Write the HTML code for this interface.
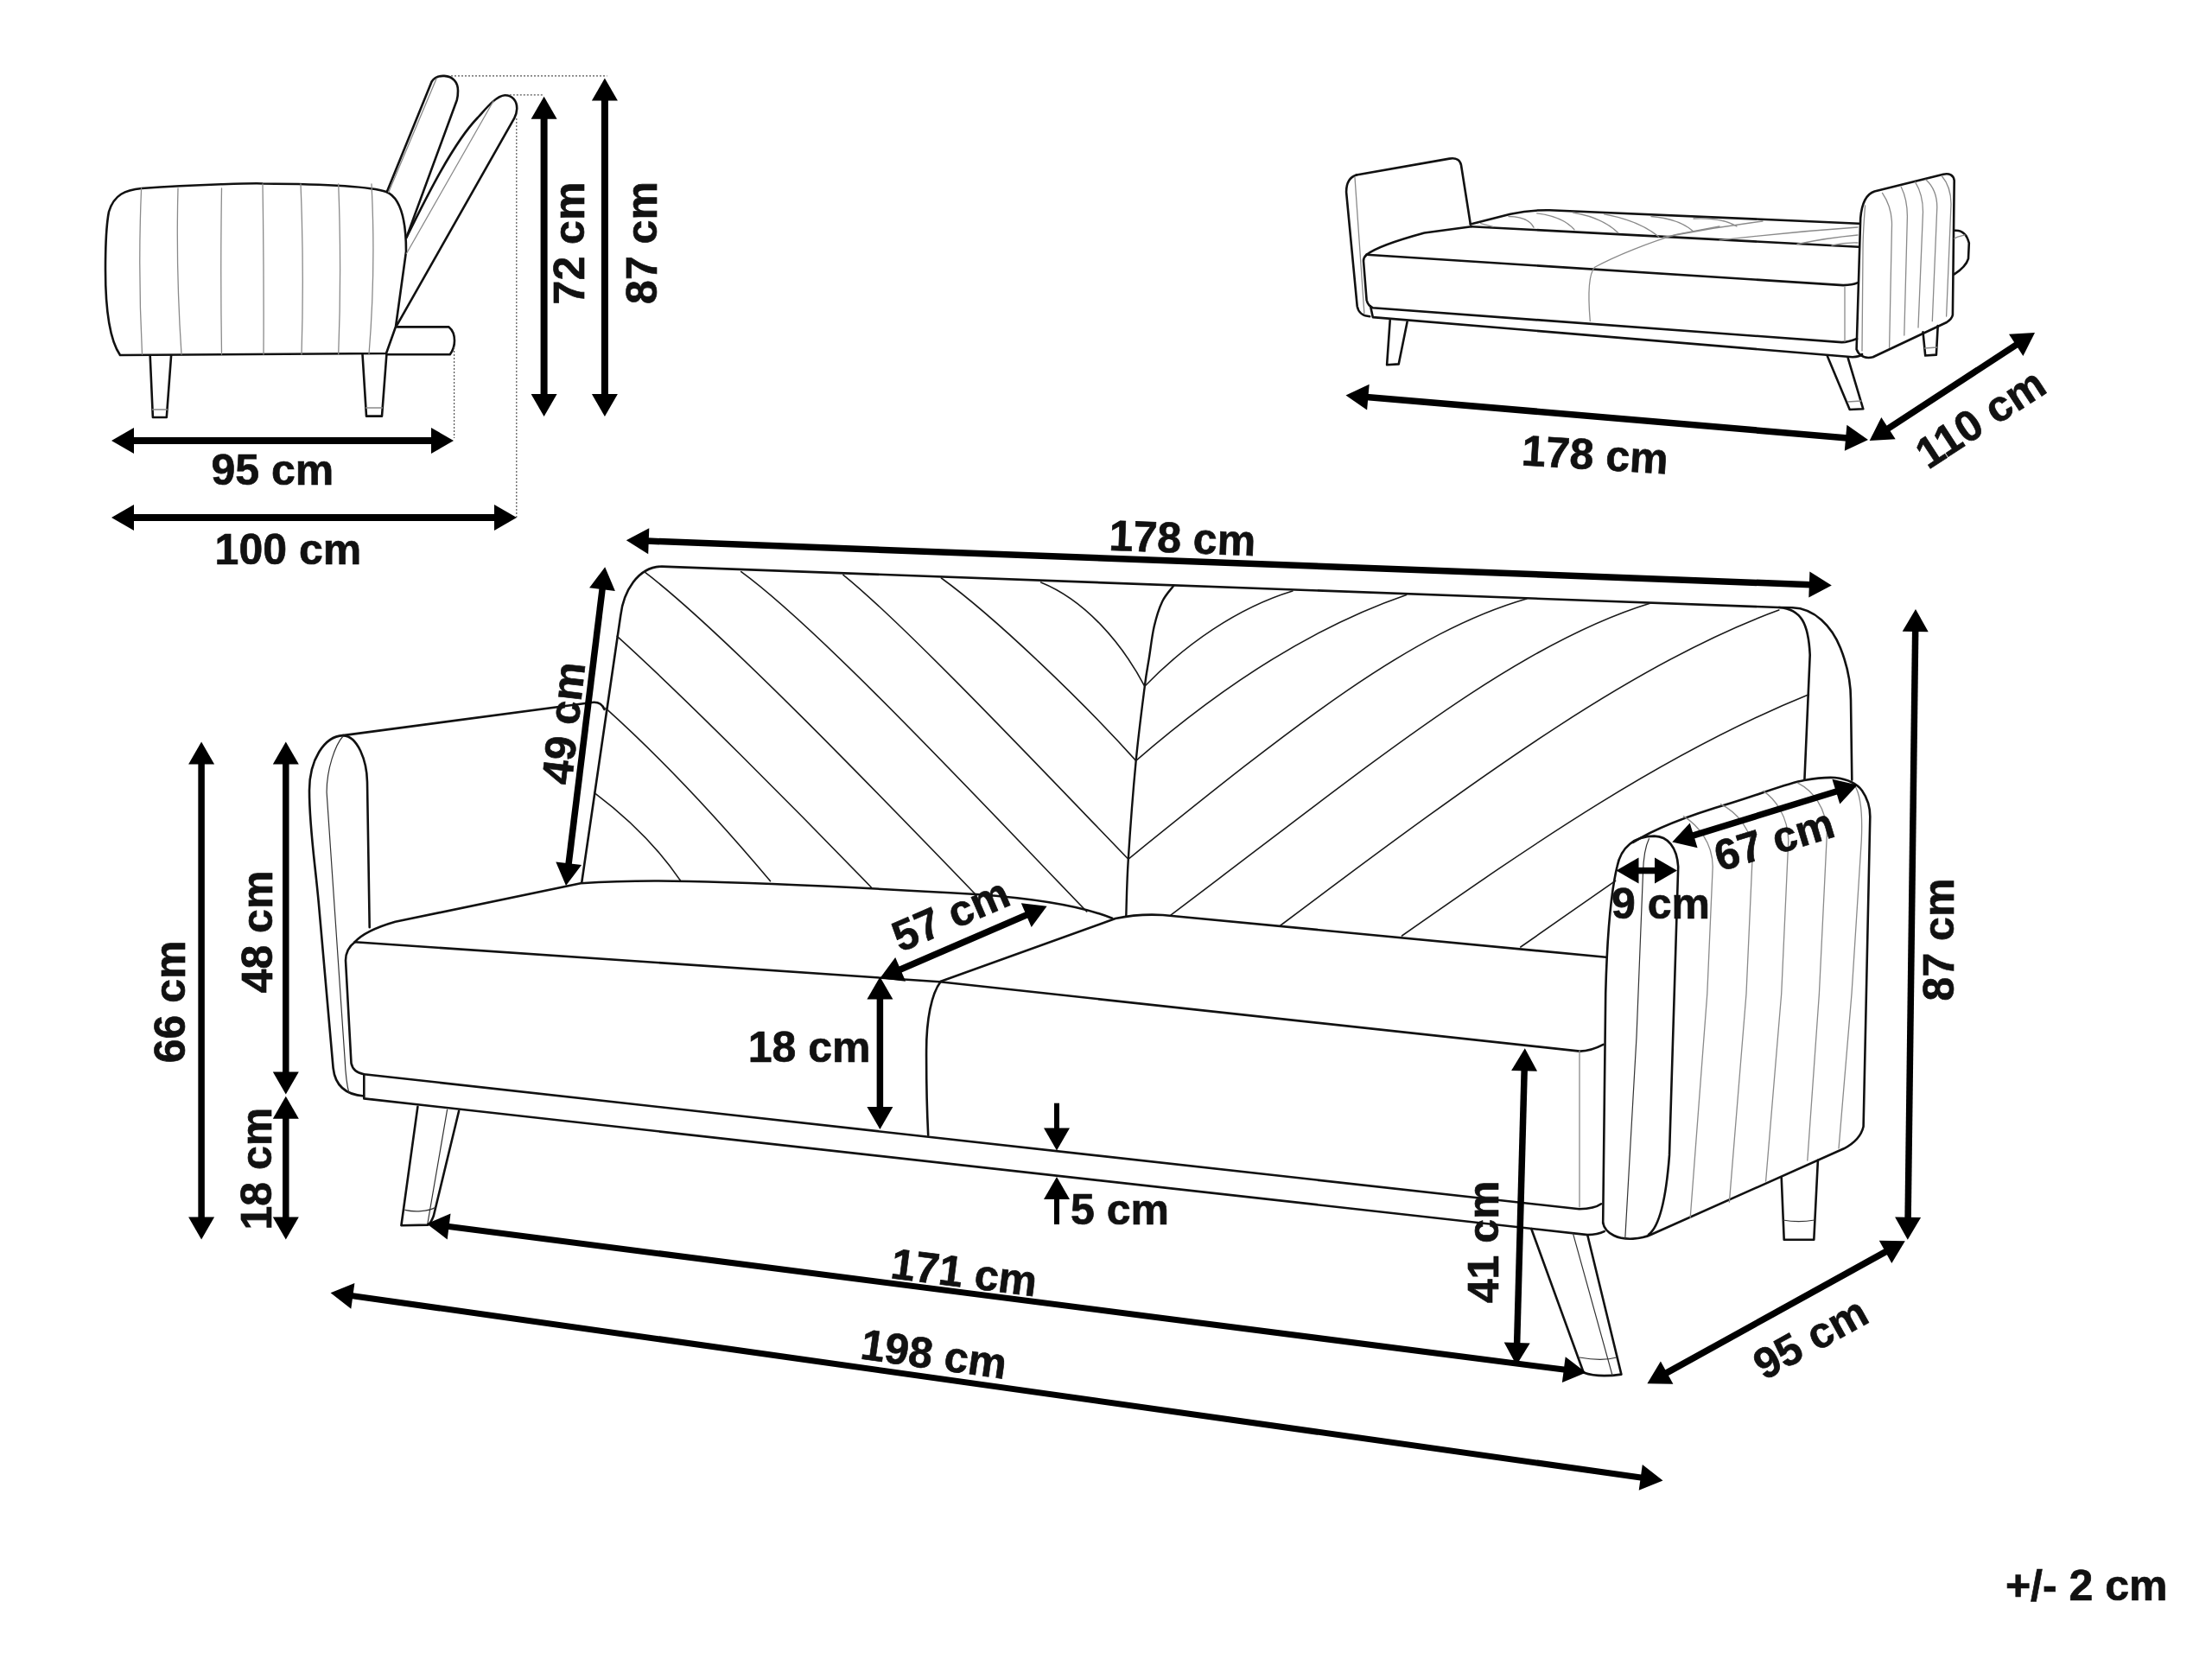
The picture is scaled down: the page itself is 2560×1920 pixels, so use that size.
<!DOCTYPE html>
<html><head><meta charset="utf-8"><style>
html,body{margin:0;padding:0;background:#fff;width:2560px;height:1920px;overflow:hidden}
svg{display:block}
text{font-family:"Liberation Sans",sans-serif;font-weight:bold;fill:#111;stroke:#111;stroke-width:0.7px}
</style></head><body>
<svg width="2560" height="1920" viewBox="0 0 2560 1920">
<rect width="2560" height="1920" fill="#fff"/>
<path d="M164,218 C230,213 300,212 304,212.5 C370,213 430,216 447,222 C462,228 470,250 470,291 L458,378 L447,409 L139,411 C128,395 122,360 122,312 C122,280 124,255 126,245 C132,225 145,220 164,218 Z" fill="none" stroke="#111" stroke-width="2.6" stroke-linecap="round" stroke-linejoin="round"/>
<path d="M163.6,218 Q159.5,312 164.5,410" fill="none" stroke="#8a8a8a" stroke-width="1.3" stroke-linecap="round"/>
<path d="M206,218 Q203.5,312 210,410" fill="none" stroke="#8a8a8a" stroke-width="1.3" stroke-linecap="round"/>
<path d="M256.5,218 Q255,312 256.5,410" fill="none" stroke="#8a8a8a" stroke-width="1.3" stroke-linecap="round"/>
<path d="M304,213 Q305.5,312 305,410" fill="none" stroke="#8a8a8a" stroke-width="1.3" stroke-linecap="round"/>
<path d="M348,213 Q352,312 349,410" fill="none" stroke="#8a8a8a" stroke-width="1.3" stroke-linecap="round"/>
<path d="M391.7,213 Q395.5,312 391.7,410" fill="none" stroke="#8a8a8a" stroke-width="1.3" stroke-linecap="round"/>
<path d="M430,213 Q435,312 427,410" fill="none" stroke="#8a8a8a" stroke-width="1.3" stroke-linecap="round"/>
<path d="M173.7,411.5 L176.9,483 L192.8,483 L198.1,411.5" fill="none" stroke="#111" stroke-width="2.6" stroke-linecap="round" stroke-linejoin="round"/>
<path d="M176.5,474 L193.5,474" fill="none" stroke="#8a8a8a" stroke-width="1.3" stroke-linecap="round"/>
<path d="M419.5,410 L424,481.6 L442,481.6 L447.4,410" fill="none" stroke="#111" stroke-width="2.6" stroke-linecap="round" stroke-linejoin="round"/>
<path d="M423.5,472 L442.5,472" fill="none" stroke="#8a8a8a" stroke-width="1.3" stroke-linecap="round"/>
<path d="M447.9,221.8 L499.6,94.5 C503,89 508,87.5 514.2,87.9 C524,88.5 530,95 530,105 C530,110 529.5,113 528.8,115.7 L470.4,274.9" fill="none" stroke="#111" stroke-width="2.6" stroke-linecap="round" stroke-linejoin="round"/>
<path d="M449.7,222.5 L505.2,90.8" fill="none" stroke="#8a8a8a" stroke-width="1.3" stroke-linecap="round"/>
<path d="M470.4,274.9 C495,225 525,165 553,136 C563,125 574,111 584.2,110.2 C593,110 598.5,117 598.2,126 C598,130 597.3,133 595.3,136.6 L459.8,375.7" fill="none" stroke="#111" stroke-width="2.6" stroke-linecap="round" stroke-linejoin="round"/>
<path d="M470.4,293.5 L571,117" fill="none" stroke="#8a8a8a" stroke-width="1.3" stroke-linecap="round"/>
<path d="M459.8,378.4 L519.5,378.4 C524,382 526,387 526,394.3 C526,401 524,406 520.8,410.2 L447.9,410.2" fill="none" stroke="#111" stroke-width="2.6" stroke-linecap="round" stroke-linejoin="round"/>
<path d="M522,87.9 L702.6,87.9" fill="none" stroke="#555" stroke-width="1.2" stroke-dasharray="2,2"/>
<path d="M589.8,109.9 L628.3,109.9" fill="none" stroke="#555" stroke-width="1.2" stroke-dasharray="2,2"/>
<path d="M597.8,137 L597.8,599" fill="none" stroke="#555" stroke-width="1.2" stroke-dasharray="2,2"/>
<path d="M525.6,402 L525.6,507" fill="none" stroke="#555" stroke-width="1.2" stroke-dasharray="2,2"/>
<line x1="629.6" y1="135.7" x2="629.6" y2="457.9" stroke="#000" stroke-width="8"/>
<polygon points="629.6,111.7 614.6,137.7 644.6,137.7" fill="#000"/>
<polygon points="629.6,481.9 614.6,455.9 644.6,455.9" fill="#000"/>
<line x1="699.9" y1="114.5" x2="699.9" y2="457.9" stroke="#000" stroke-width="8"/>
<polygon points="699.9,90.5 684.9,116.5 714.9,116.5" fill="#000"/>
<polygon points="699.9,481.9 684.9,455.9 714.9,455.9" fill="#000"/>
<line x1="153.0" y1="510.0" x2="501.0" y2="510.0" stroke="#000" stroke-width="8"/>
<polygon points="129.0,510.0 155.0,525.0 155.0,495.0" fill="#000"/>
<polygon points="525.0,510.0 499.0,525.0 499.0,495.0" fill="#000"/>
<line x1="153.0" y1="599.0" x2="574.0" y2="599.0" stroke="#000" stroke-width="8"/>
<polygon points="129.0,599.0 155.0,614.0 155.0,584.0" fill="#000"/>
<polygon points="598.0,599.0 572.0,614.0 572.0,584.0" fill="#000"/>
<text x="315.3" y="560.9" font-size="50" text-anchor="middle" transform="rotate(0.00 315.3 543.0)">95 cm</text>
<text x="333.4" y="652.9" font-size="50" text-anchor="middle" transform="rotate(0.00 333.4 635.0)">100 cm</text>
<text x="658.0" y="299.4" font-size="50" text-anchor="middle" transform="rotate(-90.00 658.0 281.5)">72 cm</text>
<text x="741.7" y="298.9" font-size="50" text-anchor="middle" transform="rotate(-90.00 741.7 281.0)">87 cm</text>
<path d="M1569.8,202.5 L1677.4,183.6 C1686,182 1690,186 1691,191 L1699.1,242.3 L1701.8,259.5" fill="none" stroke="#111" stroke-width="2.6" stroke-linecap="round" stroke-linejoin="round"/>
<path d="M1569.8,202.5 C1562,205 1558,212 1558.1,222.4 L1570.7,354.4 C1572,362 1578,366 1585.2,366.2" fill="none" stroke="#111" stroke-width="2.6" stroke-linecap="round" stroke-linejoin="round"/>
<path d="M1568,205.3 L1578.9,362.6" fill="none" stroke="#8a8a8a" stroke-width="1.3" stroke-linecap="round"/>
<path d="M1701.8,259.5 L1748,247.8 C1765,244 1780,243 1793.2,243.2 L2151.4,258.7" fill="none" stroke="#111" stroke-width="2.6" stroke-linecap="round" stroke-linejoin="round"/>
<path d="M1702.7,262.2 L2151.4,285.8" fill="none" stroke="#111" stroke-width="2.6" stroke-linecap="round" stroke-linejoin="round"/>
<path d="M1581.6,294.8 C1590,288 1610,280 1648.5,269.5 L1702.7,262.2" fill="none" stroke="#111" stroke-width="2.6" stroke-linecap="round" stroke-linejoin="round"/>
<path d="M1581.6,294.8 L2133.3,330.1 C2140,330 2146,329 2149.5,327.4" fill="none" stroke="#111" stroke-width="2.6" stroke-linecap="round" stroke-linejoin="round"/>
<path d="M1581.6,294.8 C1578,298 1578,300 1578,302 L1581.6,347.2 C1583,353 1586,355 1588.8,356.3 L2131.5,396.1 C2138,396 2144,394 2149,392" fill="none" stroke="#111" stroke-width="2.6" stroke-linecap="round" stroke-linejoin="round"/>
<path d="M1586.1,354.4 L1588.8,367.1 L2144.1,413.3 C2150,413 2153,412 2155,410" fill="none" stroke="#111" stroke-width="2.6" stroke-linecap="round" stroke-linejoin="round"/>
<path d="M2135,332 L2135,395" fill="none" stroke="#8a8a8a" stroke-width="1.3" stroke-linecap="round"/>
<path d="M1840.3,371.6 C1838,345 1838,318 1845.6,309.2 C1870,296 1910,280 1940,271.3 L1990,262" fill="none" stroke="#8a8a8a" stroke-width="1.3" stroke-linecap="round"/>
<path d="M1713.6,258.6 L1728,262.4" fill="none" stroke="#8a8a8a" stroke-width="1.3" stroke-linecap="round"/>
<path d="M1746,250.5 Q1768.5,250.8 1775,263.1" fill="none" stroke="#8a8a8a" stroke-width="1.3" stroke-linecap="round"/>
<path d="M1778.7,246.8 Q1808.35,250.3 1822,265.8" fill="none" stroke="#8a8a8a" stroke-width="1.3" stroke-linecap="round"/>
<path d="M1820.3,246 Q1854.5,251.75 1872.7,269.5" fill="none" stroke="#8a8a8a" stroke-width="1.3" stroke-linecap="round"/>
<path d="M1856.5,247.8 Q1896.15,254.89999999999998 1919.8,274" fill="none" stroke="#8a8a8a" stroke-width="1.3" stroke-linecap="round"/>
<path d="M1911,250.5 Q1943.5,253.25 1960,268" fill="none" stroke="#8a8a8a" stroke-width="1.3" stroke-linecap="round"/>
<path d="M1960,253 Q1993.0,251.5 2010,262" fill="none" stroke="#8a8a8a" stroke-width="1.3" stroke-linecap="round"/>
<path d="M1925,274.5 Q1982.5,263.25 2040,256" fill="none" stroke="#8a8a8a" stroke-width="1.3" stroke-linecap="round"/>
<path d="M1990,278 Q2070.0,268.5 2150,263" fill="none" stroke="#8a8a8a" stroke-width="1.3" stroke-linecap="round"/>
<path d="M2080,282.5 Q2115.0,275.25 2150,272" fill="none" stroke="#8a8a8a" stroke-width="1.3" stroke-linecap="round"/>
<path d="M2120,284 Q2135.0,280.5 2150,281" fill="none" stroke="#8a8a8a" stroke-width="1.3" stroke-linecap="round"/>
<path d="M2148.6,404.2 L2153.2,252.3 C2155,232 2162,224 2169.4,221.6 L2249,201.7 C2256,200 2261,203 2261.7,208.9 L2259.9,364.5 C2259,369 2256,371 2253,373 L2167.6,413.3 C2160,415 2152,413 2148.6,404.2 Z" fill="none" stroke="#111" stroke-width="2.6" stroke-linecap="round" stroke-linejoin="round"/>
<path d="M2158.6,237.9 Q2156,270 2156,290 L2155,406" fill="none" stroke="#8a8a8a" stroke-width="1.3" stroke-linecap="round"/>
<path d="M2178.5,223.4 Q2189.5,239.7 2189.5,259.7 L2186.6,402.4" fill="none" stroke="#8a8a8a" stroke-width="1.3" stroke-linecap="round"/>
<path d="M2200.2,216.2 Q2207.4,230.6 2207.4,250.6 L2203.8,388" fill="none" stroke="#8a8a8a" stroke-width="1.3" stroke-linecap="round"/>
<path d="M2216.5,210.7 Q2225.5,225.2 2225.5,245.2 L2220,379" fill="none" stroke="#8a8a8a" stroke-width="1.3" stroke-linecap="round"/>
<path d="M2229,208 Q2241.8,219.8 2241.8,239.8 L2236.3,371.7" fill="none" stroke="#8a8a8a" stroke-width="1.3" stroke-linecap="round"/>
<path d="M2247.2,203.5 Q2258,216.2 2258,236.2 L2252.6,366" fill="none" stroke="#8a8a8a" stroke-width="1.3" stroke-linecap="round"/>
<path d="M2261.7,266.8 C2270,266 2276,270 2278.8,281.3 L2278,299.3 C2276,306 2270,312 2261.7,317.4" fill="none" stroke="#111" stroke-width="2.6" stroke-linecap="round" stroke-linejoin="round"/>
<path d="M2261.7,276 C2265,274 2270,273 2274,272" fill="none" stroke="#8a8a8a" stroke-width="1.3" stroke-linecap="round"/>
<path d="M1608.7,370.7 L1605.1,422.3 L1618.7,421.4 L1628.6,372.5" fill="none" stroke="#111" stroke-width="2.6" stroke-linecap="round" stroke-linejoin="round"/>
<path d="M2114.9,412.2 L2140.7,474 L2156.3,473.3 L2138.7,414.3" fill="none" stroke="#111" stroke-width="2.6" stroke-linecap="round" stroke-linejoin="round"/>
<path d="M2138.5,465 L2154,464" fill="none" stroke="#8a8a8a" stroke-width="1.3" stroke-linecap="round"/>
<path d="M2225.5,384.3 L2228.2,411.5 L2240.9,410.6 L2242.7,377.1" fill="none" stroke="#111" stroke-width="2.6" stroke-linecap="round" stroke-linejoin="round"/>
<path d="M2227.5,403 L2241.5,402" fill="none" stroke="#8a8a8a" stroke-width="1.3" stroke-linecap="round"/>
<line x1="1581.4" y1="459.4" x2="2138.1" y2="507.0" stroke="#000" stroke-width="7.5"/>
<polygon points="1557.5,457.4 1582.1,474.6 1584.7,444.7" fill="#000"/>
<polygon points="2162.0,509.0 2134.8,521.7 2137.4,491.8" fill="#000"/>
<line x1="2183.8" y1="496.8" x2="2334.9" y2="398.2" stroke="#000" stroke-width="7.5"/>
<polygon points="2163.7,509.9 2193.7,508.3 2177.3,483.1" fill="#000"/>
<polygon points="2355.0,385.1 2341.4,411.9 2325.0,386.7" fill="#000"/>
<text x="1846.0" y="543.4" font-size="50" text-anchor="middle" transform="rotate(3.50 1846.0 525.5)">178 cm</text>
<text x="2291.5" y="501.3" font-size="50" text-anchor="middle" transform="rotate(-33.10 2291.5 483.4)">110 cm</text>
<path d="M673.3,1021 L718.2,712.6 C721.5,685 738,655.8 765.9,655.6 L2059,703 C2085,705 2093,722 2094.7,758 L2088.4,902.6" fill="none" stroke="#111" stroke-width="2.6" stroke-linecap="round" stroke-linejoin="round"/>
<path d="M2059,703 L2074.5,703.3 C2100,704 2120,725 2130,750 C2138,770 2142,790 2142,810 L2143.3,902.6" fill="none" stroke="#111" stroke-width="2.6" stroke-linecap="round" stroke-linejoin="round"/>
<path d="M1358.1,678.1 C1355.9,681.1 1348.8,688.4 1345.1,696.2 C1341.4,704.0 1338.2,714.2 1335.7,725.1 C1333.2,736.0 1331.7,749.8 1329.9,761.3 C1328.1,772.8 1327.3,774.4 1324.8,794.3 C1322.3,814.1 1317.9,847.1 1314.7,880.4 C1311.5,913.7 1307.7,964.3 1305.8,994.3 C1303.9,1024.2 1303.7,1049.1 1303.3,1060.1" fill="none" stroke="#111" stroke-width="2.4" stroke-linecap="round"/>
<path d="M687.7,917.3 C725.4,945.7 761.4,980.5 787.8,1019.7" fill="none" stroke="#1a1a1a" stroke-width="1.6" stroke-linecap="round"/>
<path d="M701.0,819.6 C768.8,880.6 832.9,949.9 891.5,1019.7" fill="none" stroke="#1a1a1a" stroke-width="1.6" stroke-linecap="round"/>
<path d="M714.2,736.4 C791.0,805.6 922.2,937.8 1008.4,1027.0" fill="none" stroke="#1a1a1a" stroke-width="1.6" stroke-linecap="round"/>
<path d="M745.6,661.7 C831.3,726.3 1018.1,920.2 1129.9,1036.0" fill="none" stroke="#1a1a1a" stroke-width="1.6" stroke-linecap="round"/>
<path d="M857.7,661.7 C948.5,727.6 1140.8,933.9 1257.7,1055.0" fill="none" stroke="#1a1a1a" stroke-width="1.6" stroke-linecap="round"/>
<path d="M975.9,665.3 C1048.3,723.9 1208.7,893.8 1305.8,994.3" fill="none" stroke="#1a1a1a" stroke-width="1.6" stroke-linecap="round"/>
<path d="M1089.4,669.0 C1151.9,714.4 1252.7,811.5 1314.7,880.4" fill="none" stroke="#1a1a1a" stroke-width="1.6" stroke-linecap="round"/>
<path d="M1204.6,674.0 C1256.6,695.0 1298.5,744.7 1324.8,794.3" fill="none" stroke="#1a1a1a" stroke-width="1.6" stroke-linecap="round"/>
<path d="M1324.8,794.3 C1371.5,746.0 1431.7,703.6 1495.9,684.0" fill="none" stroke="#1a1a1a" stroke-width="1.6" stroke-linecap="round"/>
<path d="M1314.7,880.4 C1406.1,800.9 1513.1,727.8 1627.6,688.4" fill="none" stroke="#1a1a1a" stroke-width="1.6" stroke-linecap="round"/>
<path d="M1305.8,994.3 C1498.4,838.3 1634.4,730.9 1766.8,692.9" fill="none" stroke="#1a1a1a" stroke-width="1.6" stroke-linecap="round"/>
<path d="M1355.2,1058.9 C1593.2,879.6 1752.0,746.4 1910.3,698.0" fill="none" stroke="#1a1a1a" stroke-width="1.6" stroke-linecap="round"/>
<path d="M1482.0,1071.0 C1727.3,886.1 1898.4,764.4 2058.8,706.0" fill="none" stroke="#1a1a1a" stroke-width="1.6" stroke-linecap="round"/>
<path d="M1622.5,1083.0 C1770.5,979.4 1925.9,871.5 2093.4,803.8" fill="none" stroke="#1a1a1a" stroke-width="1.6" stroke-linecap="round"/>
<path d="M1759.8,1096.0 C1796.0,1070.7 1833.4,1044.7 1869.6,1019.4" fill="none" stroke="#1a1a1a" stroke-width="1.6" stroke-linecap="round"/>
<path d="M397,851.1 L684.8,813 C692,812 697,815 699.5,821" fill="none" stroke="#111" stroke-width="2.6" stroke-linecap="round" stroke-linejoin="round"/>
<path d="M421,1268.5 C402,1267 388,1258 385.6,1236 L369.5,1052.8 C365,1000 358,960 358,915 C358,880 375,852 397,851.1 C414,852 424.5,880 425,905 L427.7,1073.2" fill="none" stroke="#111" stroke-width="2.6" stroke-linecap="round" stroke-linejoin="round"/>
<path d="M397,852 C388,862 378,890 378.1,917 L399.1,1225.7 C400,1245 402,1258 404,1265.2" fill="none" stroke="#333" stroke-width="1.2" stroke-linecap="round"/>
<path d="M410.7,1090.2 C420,1080 436,1073 457.5,1066.8 L672,1022.2 C720,1019 760,1019 797.4,1020 C900,1022 1010,1028 1129.8,1035 C1200,1040 1256,1050 1287.2,1062.8" fill="none" stroke="#111" stroke-width="2.6" stroke-linecap="round" stroke-linejoin="round"/>
<path d="M410.7,1090.2 L1087.5,1136.3" fill="none" stroke="#111" stroke-width="2.6" stroke-linecap="round" stroke-linejoin="round"/>
<path d="M410.7,1090.2 C403,1096 400,1103 400,1111.5 L406.5,1230.5 C408,1238 414,1242 421.3,1243.2 L1827.8,1399.3 C1840,1399 1848,1397 1853.1,1393.3" fill="none" stroke="#111" stroke-width="2.6" stroke-linecap="round" stroke-linejoin="round"/>
<path d="M421.3,1243.2 L421.3,1271.4 L1837.4,1429.1 C1845,1429 1852,1427.5 1856.7,1425.2" fill="none" stroke="#111" stroke-width="2.6" stroke-linecap="round" stroke-linejoin="round"/>
<path d="M1088.7,1136 C1078,1150 1072,1180 1072.1,1217 C1072,1260 1073,1290 1074.2,1313.8" fill="none" stroke="#111" stroke-width="2.6" stroke-linecap="round" stroke-linejoin="round"/>
<path d="M1087.5,1136.3 L1290.9,1063 C1310,1059 1330,1058 1345.8,1059 L1858.5,1107.8" fill="none" stroke="#111" stroke-width="2.6" stroke-linecap="round" stroke-linejoin="round"/>
<path d="M1087.5,1136.3 C1400,1170 1700,1204 1828.4,1216.6 C1835,1216.5 1842,1216 1855.5,1208.9" fill="none" stroke="#111" stroke-width="2.6" stroke-linecap="round" stroke-linejoin="round"/>
<path d="M1828,1216.3 L1828,1397.1" fill="none" stroke="#8a8a8a" stroke-width="1.3" stroke-linecap="round"/>
<path d="M483.4,1280.9 L464.4,1418.2 L495.3,1417.6 C498,1416 500,1412 501.8,1407.3 L531.1,1285.8" fill="none" stroke="#111" stroke-width="2.6" stroke-linecap="round" stroke-linejoin="round"/>
<path d="M517.6,1284.2 L494.8,1416.5" fill="none" stroke="#333" stroke-width="1.2" stroke-linecap="round"/>
<path d="M468.8,1400.3 C480,1403 495,1402 503.5,1397.6" fill="none" stroke="#333" stroke-width="1.2" stroke-linecap="round"/>
<path d="M1772.3,1422.2 L1832.7,1588.5 C1845,1593 1860,1593 1876.4,1590.6 L1837.4,1430" fill="none" stroke="#111" stroke-width="2.6" stroke-linecap="round" stroke-linejoin="round"/>
<path d="M1820.5,1427.6 L1866,1591.6" fill="none" stroke="#333" stroke-width="1.2" stroke-linecap="round"/>
<path d="M1828,1571 C1845,1574 1860,1574 1871,1571" fill="none" stroke="#333" stroke-width="1.2" stroke-linecap="round"/>
<path d="M2061.7,1362.5 L2064.7,1434.8 L2099.3,1434.8 L2103.9,1342.9" fill="none" stroke="#111" stroke-width="2.6" stroke-linecap="round" stroke-linejoin="round"/>
<path d="M2063.5,1412 C2075,1414 2088,1414 2100,1412" fill="none" stroke="#333" stroke-width="1.2" stroke-linecap="round"/>
<path d="M1890,975 C1910,962 1950,945 2003.7,929.2 C2040,918 2070,906 2088.2,903 C2105,900 2115,899.5 2123.6,900 C2140,902 2150,908 2155,915 C2162,925 2164.3,935 2164.3,945 L2156.6,1303.7 C2154,1315 2146,1323 2134,1329.3 L1911,1428.8 C1900,1434 1880,1436 1868,1430 C1860,1426 1856,1420 1855.2,1415.2" fill="none" stroke="#111" stroke-width="2.6" stroke-linecap="round" stroke-linejoin="round"/>
<path d="M1855.2,1415.2 L1858.2,1150 C1860,1080 1865,1030 1871.5,1003 C1876,980 1892,967.6 1914.6,967.6 C1930,968 1940.7,980 1942.2,1003 L1932,1336.9 C1928,1390 1920,1420 1908,1428.8" fill="none" stroke="#111" stroke-width="2.6" stroke-linecap="round" stroke-linejoin="round"/>
<path d="M1908.4,970.7 C1904,980 1902,990 1901.5,1010 L1894,1200 L1880.8,1433.3" fill="none" stroke="#333" stroke-width="1.2" stroke-linecap="round"/>
<path d="M1948.4,944.6 C1965,955 1982,975 1982.2,1003 L1975.8,1150 L1956.2,1409.2" fill="none" stroke="#8a8a8a" stroke-width="1.3" stroke-linecap="round"/>
<path d="M1991.4,930.7 C2010,940 2028,960 2028.3,987.6 L2021,1150 L2001.4,1391.1" fill="none" stroke="#8a8a8a" stroke-width="1.3" stroke-linecap="round"/>
<path d="M2040.6,915.4 C2055,925 2069,945 2069.8,972.2 L2061.7,1150 L2043.6,1367" fill="none" stroke="#8a8a8a" stroke-width="1.3" stroke-linecap="round"/>
<path d="M2080.6,906.1 C2098,915 2114,935 2114.4,964.5 L2105.4,1150 L2091.8,1343" fill="none" stroke="#8a8a8a" stroke-width="1.3" stroke-linecap="round"/>
<path d="M2146.6,909.2 C2152,918 2156,935 2154.3,972.2 L2143,1150 L2128,1329" fill="none" stroke="#8a8a8a" stroke-width="1.3" stroke-linecap="round"/>
<line x1="748.8" y1="626.1" x2="2095.8" y2="676.7" stroke="#000" stroke-width="7.5"/>
<polygon points="724.8,625.2 750.2,641.2 751.3,611.2" fill="#000"/>
<polygon points="2119.8,677.6 2093.3,691.6 2094.4,661.6" fill="#000"/>
<text x="1368.5" y="639.9" font-size="50" text-anchor="middle" transform="rotate(2.15 1368.5 622.0)">178 cm</text>
<line x1="697.3" y1="680.1" x2="657.9" y2="1001.2" stroke="#000" stroke-width="7.5"/>
<polygon points="700.2,656.3 682.1,680.3 711.9,683.9" fill="#000"/>
<polygon points="655.0,1025.0 643.3,997.4 673.1,1001.0" fill="#000"/>
<text x="651.5" y="854.6" font-size="50" text-anchor="middle" transform="rotate(-83.40 651.5 836.7)">49 cm</text>
<line x1="233.1" y1="882.6" x2="233.1" y2="1410.4" stroke="#000" stroke-width="7.5"/>
<polygon points="233.1,858.6 218.1,884.6 248.1,884.6" fill="#000"/>
<polygon points="233.1,1434.4 218.1,1408.4 248.1,1408.4" fill="#000"/>
<text x="196.0" y="1177.2" font-size="50" text-anchor="middle" transform="rotate(-90.00 196.0 1159.3)">66 cm</text>
<line x1="330.8" y1="882.6" x2="330.8" y2="1242.6" stroke="#000" stroke-width="7.5"/>
<polygon points="330.8,858.6 315.8,884.6 345.8,884.6" fill="#000"/>
<polygon points="330.8,1266.6 315.8,1240.6 345.8,1240.6" fill="#000"/>
<text x="297.0" y="1096.4" font-size="50" text-anchor="middle" transform="rotate(-90.00 297.0 1078.5)">48 cm</text>
<line x1="330.8" y1="1292.7" x2="330.8" y2="1410.4" stroke="#000" stroke-width="7.5"/>
<polygon points="330.8,1268.7 315.8,1294.7 345.8,1294.7" fill="#000"/>
<polygon points="330.8,1434.4 315.8,1408.4 345.8,1408.4" fill="#000"/>
<text x="296.0" y="1370.5" font-size="50" text-anchor="middle" transform="rotate(-90.00 296.0 1352.6)">18 cm</text>
<line x1="1018.4" y1="1154.6" x2="1018.4" y2="1283.0" stroke="#000" stroke-width="7.5"/>
<polygon points="1018.4,1130.6 1003.4,1156.6 1033.4,1156.6" fill="#000"/>
<polygon points="1018.4,1307.0 1003.4,1281.0 1033.4,1281.0" fill="#000"/>
<text x="936.6" y="1229.2" font-size="50" text-anchor="middle" transform="rotate(0.00 936.6 1211.3)">18 cm</text>
<line x1="1040.3" y1="1122.7" x2="1189.6" y2="1058.3" stroke="#000" stroke-width="7.5"/>
<polygon points="1018.3,1132.2 1048.1,1135.7 1036.2,1108.1" fill="#000"/>
<polygon points="1211.6,1048.8 1193.7,1072.9 1181.8,1045.3" fill="#000"/>
<text x="1100.0" y="1075.9" font-size="50" text-anchor="middle" transform="rotate(-23.30 1100.0 1058.0)">57 cm</text>
<line x1="1223.0" y1="1276.7" x2="1223.0" y2="1307.6" stroke="#000" stroke-width="6"/>
<polygon points="1223.0,1331.6 1208.0,1305.6 1238.0,1305.6" fill="#000"/>
<line x1="1223.0" y1="1417.0" x2="1223.0" y2="1386.1" stroke="#000" stroke-width="6"/>
<polygon points="1223.0,1362.1 1238.0,1388.1 1208.0,1388.1" fill="#000"/>
<text x="1296.0" y="1417.4" font-size="50" text-anchor="middle" transform="rotate(0.00 1296.0 1399.5)">5 cm</text>
<line x1="1764.2" y1="1237.3" x2="1755.6" y2="1556.0" stroke="#000" stroke-width="7.5"/>
<polygon points="1764.8,1213.3 1749.1,1238.9 1779.1,1239.7" fill="#000"/>
<polygon points="1755.0,1580.0 1740.7,1553.6 1770.7,1554.4" fill="#000"/>
<text x="1716.0" y="1455.2" font-size="50" text-anchor="middle" transform="rotate(-90.00 1716.0 1437.3)">41 cm</text>
<line x1="517.6" y1="1419.3" x2="1811.8" y2="1585.3" stroke="#000" stroke-width="7"/>
<polygon points="493.8,1416.2 517.7,1434.4 521.5,1404.6" fill="#000"/>
<polygon points="1835.6,1588.4 1807.9,1600.0 1811.7,1570.2" fill="#000"/>
<text x="1116.0" y="1489.9" font-size="50" text-anchor="middle" transform="rotate(7.30 1116.0 1472.0)">171 cm</text>
<line x1="406.4" y1="1499.5" x2="1900.7" y2="1710.2" stroke="#000" stroke-width="7"/>
<polygon points="382.6,1496.2 406.3,1514.7 410.4,1485.0" fill="#000"/>
<polygon points="1924.5,1713.5 1896.7,1724.7 1900.8,1695.0" fill="#000"/>
<text x="1081.0" y="1584.4" font-size="50" text-anchor="middle" transform="rotate(8.05 1081.0 1566.5)">198 cm</text>
<line x1="2216.7" y1="729.0" x2="2208.1" y2="1410.8" stroke="#000" stroke-width="7.5"/>
<polygon points="2217.0,705.0 2201.7,730.8 2231.7,731.2" fill="#000"/>
<polygon points="2207.8,1434.8 2193.1,1408.6 2223.1,1409.0" fill="#000"/>
<text x="2242.8" y="1105.4" font-size="50" text-anchor="middle" transform="rotate(-90.00 2242.8 1087.5)">87 cm</text>
<line x1="1927.4" y1="1589.6" x2="2183.8" y2="1447.9" stroke="#000" stroke-width="7.5"/>
<polygon points="1906.4,1601.2 1936.4,1601.8 1921.9,1575.5" fill="#000"/>
<polygon points="2204.8,1436.3 2189.3,1462.0 2174.8,1435.7" fill="#000"/>
<text x="2095.0" y="1565.9" font-size="50" text-anchor="middle" transform="rotate(-29.00 2095.0 1548.0)">95 cm</text>
<line x1="1958.2" y1="967.4" x2="2126.8" y2="915.5" stroke="#000" stroke-width="7.5"/>
<polygon points="1935.3,974.5 1964.6,981.2 1955.7,952.5" fill="#000"/>
<polygon points="2149.7,908.4 2129.3,930.4 2120.4,901.7" fill="#000"/>
<text x="2053.0" y="988.9" font-size="50" text-anchor="middle" transform="rotate(-17.00 2053.0 971.0)">67 cm</text>
<line x1="1894.5" y1="1007.6" x2="1917.0" y2="1007.6" stroke="#000" stroke-width="7.5"/>
<polygon points="1870.5,1007.6 1896.5,1022.6 1896.5,992.6" fill="#000"/>
<polygon points="1941.0,1007.6 1915.0,1022.6 1915.0,992.6" fill="#000"/>
<text x="1922.0" y="1062.9" font-size="50" text-anchor="middle" transform="rotate(0.00 1922.0 1045.0)">9 cm</text>
<text x="2414.7" y="1851.7" font-size="50" text-anchor="middle" transform="rotate(0.00 2414.7 1833.8)">+/- 2 cm</text>
</svg></body></html>
